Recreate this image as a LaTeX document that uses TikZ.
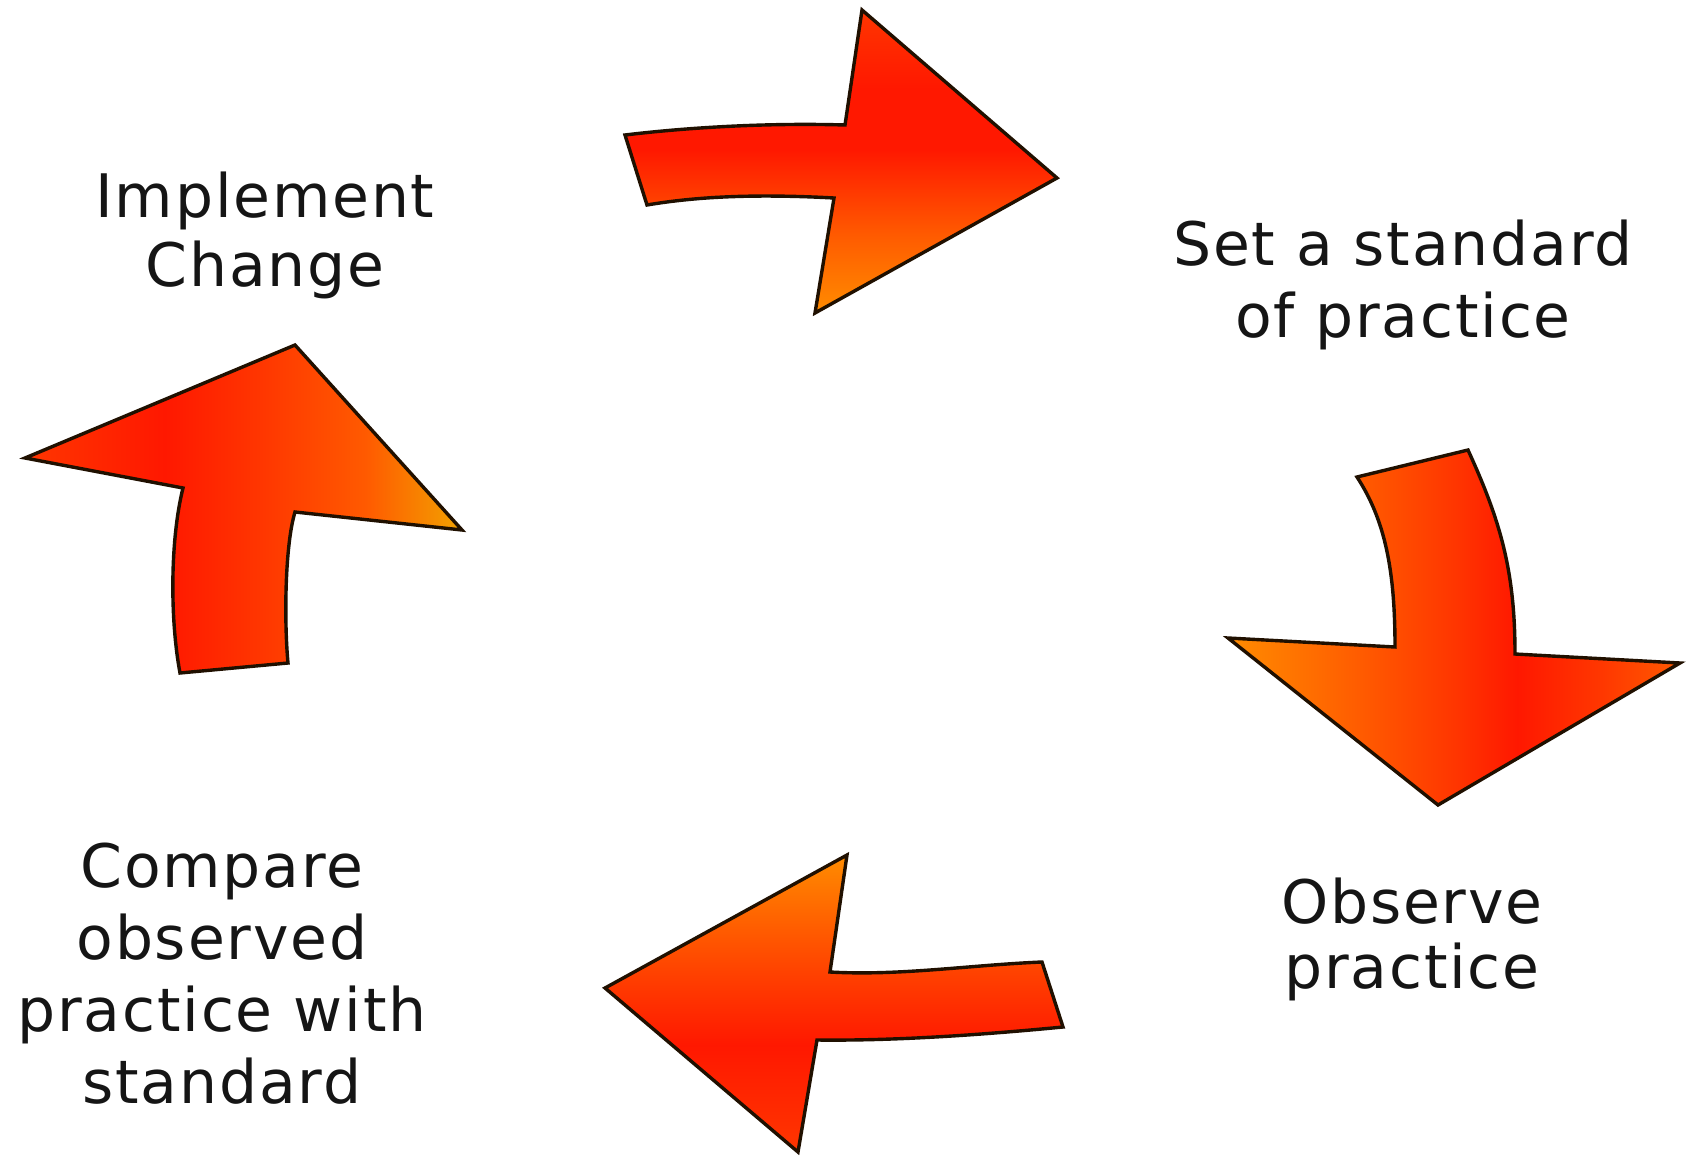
\documentclass[tikz,border=0pt]{standalone}
\usepackage{fontspec}
\newfontfamily\labfont[LetterSpace=3]{DejaVu Sans}
\definecolor{cOr}{HTML}{FF8C00}
\definecolor{cOrY}{HTML}{F2A200}
\definecolor{cOrR}{HTML}{FF5A00}
\definecolor{cRO}{HTML}{FF3600}
\definecolor{cRed}{HTML}{FF1800}
\definecolor{arrline}{HTML}{201000}
\definecolor{labcol}{HTML}{151515}
% horizontal shadings: 25bp = start edge, 75bp = end edge of the shape
\pgfdeclarehorizontalshading{shTop}{100bp}{color(0bp)=(cOr); color(25bp)=(cOr); color(38bp)=(cOrR); color(52bp)=(cRed); color(62bp)=(cRed); color(75bp)=(cRO); color(100bp)=(cRO)}
\pgfdeclarehorizontalshading{shRight}{100bp}{color(0bp)=(cOr); color(25bp)=(cOr); color(40bp)=(cOrR); color(50bp)=(cRO); color(57bp)=(cRed); color(66bp)=(cRO); color(75bp)=(cOrR); color(100bp)=(cOrR)}
\pgfdeclarehorizontalshading{shBottom}{100bp}{color(0bp)=(cRO); color(25bp)=(cRO); color(43bp)=(cRed); color(52bp)=(cRO); color(62bp)=(cOrR); color(75bp)=(cOr); color(100bp)=(cOr)}
\pgfdeclarehorizontalshading{shLeft}{100bp}{color(0bp)=(cRO); color(25bp)=(cRO); color(41bp)=(cRed); color(52bp)=(cRO); color(64bp)=(cOrR); color(75bp)=(cOrY); color(100bp)=(cOrY)}
\tikzset{
  arrowshape/.style={draw=arrline, line width=3.4pt, line join=miter},
  lab/.style={font=\labfont\fontsize{60}{#1}\selectfont, text=labcol, align=center, inner sep=0pt, anchor=base},
}
\begin{document}
\begin{tikzpicture}[x=1pt,y=-1pt]
\useasboundingbox[fill=white] (0,0) rectangle (1692,1159);

% top arrow, pointing right
\path[arrowshape, shading=shTop, shading angle=90]
  (625,135) .. controls (700,126) and (780,123) .. (845,125)
  -- (862,10) -- (1057,178) -- (815,313) -- (834,198)
  .. controls (760,194) and (700,196) .. (647,205) -- cycle;

% right arrow, pointing down
\path[arrowshape, shading=shRight, shading angle=0]
  (1357,477) -- (1468,450)
  .. controls (1500,520) and (1515,570) .. (1515,654)
  -- (1680,663) -- (1438,805) -- (1228,638) -- (1395,647)
  .. controls (1395,570) and (1385,520) .. (1357,477) -- cycle;

% bottom arrow, pointing left
\path[arrowshape, shading=shBottom, shading angle=90]
  (847,855) -- (605,988) -- (798,1152) -- (817,1040)
  .. controls (900,1041) and (990,1034) .. (1063,1027)
  -- (1042,962)
  .. controls (970,965) and (900,976) .. (830,972) -- cycle;

% left arrow, pointing up
\path[arrowshape, shading=shLeft, shading angle=0]
  (295,345) -- (462,530) -- (295,512)
  .. controls (285,545) and (284,620) .. (288,663)
  -- (180,673)
  .. controls (170,620) and (170,540) .. (183,488)
  -- (25,458) -- cycle;

\node[lab=69] (impl) at (265,286) {Implement\\Change};
\node[lab=72] (setstd) at (1403,337) {Set a standard\\of practice};
\node[lab=65] (obs) at (1412,988) {Observe\\practice};
\node[lab=72] (cmp) at (222,1103) {Compare\\observed\\practice with\\standard};
\end{tikzpicture}
\end{document}
